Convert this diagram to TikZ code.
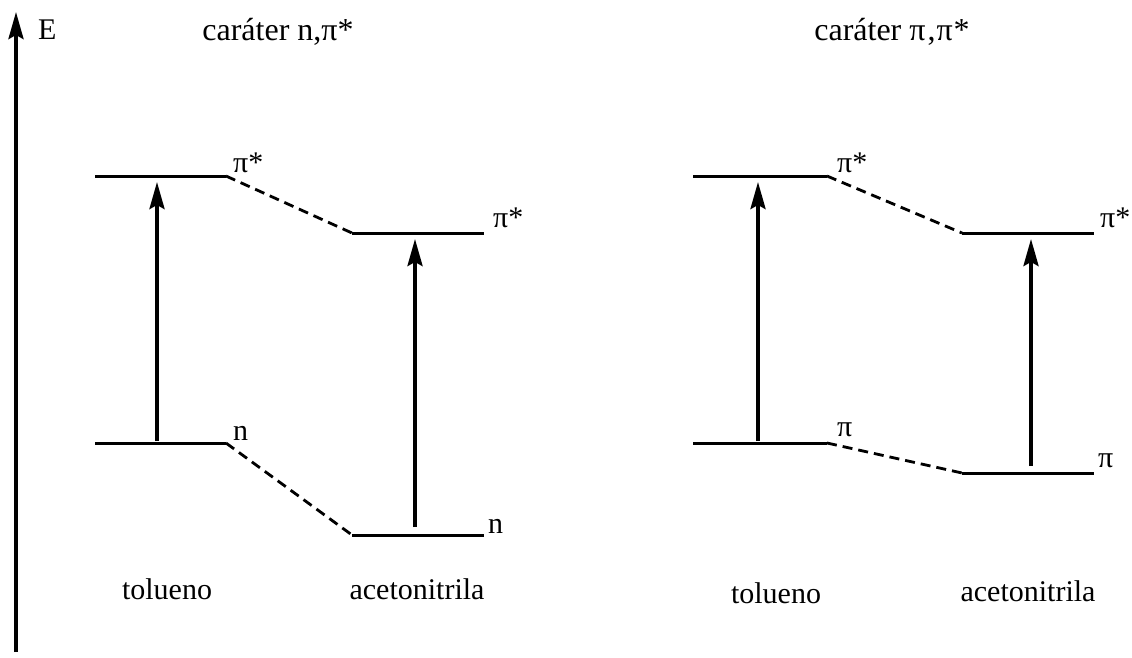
\documentclass[tikz,border=0pt]{standalone}
\usepackage{fontspec}
\setmainfont{Liberation Serif}
\usetikzlibrary{arrows.meta}
\tikzset{
  lvl/.style={line width=3pt},
  lnk/.style={line width=2.8pt,dash pattern=on 10pt off 6pt},
  trans/.style={line width=3.6pt,-{Stealth[length=27pt,width=15pt,inset=4pt]}},
  lab/.style={anchor=base west,inner sep=0pt,font=\fontsize{30}{36}\selectfont},
  solv/.style={anchor=base,inner sep=0pt,font=\fontsize{30}{36}\selectfont},
  ttl/.style={anchor=base,inner sep=0pt,font=\fontsize{32}{38}\selectfont}
}
\begin{document}
\begin{tikzpicture}[x=1pt,y=-1pt]
\useasboundingbox (0,0) rectangle (1132,657);
% energy axis
\coordinate (ax0) at (16,652);
\coordinate (ax1) at (16,12);
\draw[trans] (ax0) -- (ax1);
\node[lab] (E) at (38,39) {E};
% titles
\node[ttl] (t1) at (278,40) {caráter n,π*};
\node[ttl] (t2) at (892,40) {caráter π\kern2pt,\kern1ptπ\kern1pt*};
% left panel levels
\coordinate (a1) at (95,176);  \coordinate (a2) at (226,176);
\coordinate (b1) at (95,443);  \coordinate (b2) at (226,443);
\coordinate (c1) at (352,233); \coordinate (c2) at (484,233);
\coordinate (d1) at (352,535); \coordinate (d2) at (484,535);
\draw[lvl] (a1) -- (a2);
\draw[lvl] (b1) -- (b2);
\draw[lvl] (c1) -- (c2);
\draw[lvl] (d1) -- (d2);
\draw[lnk] (a2) -- (c1);
\draw[lnk] (b2) -- (d1);
\coordinate (ar1s) at (157,441); \coordinate (ar1e) at (157,182);
\coordinate (ar2s) at (415,527); \coordinate (ar2e) at (415,239);
\draw[trans] (ar1s) -- (ar1e);
\draw[trans] (ar2s) -- (ar2e);
\node[lab] (la) at (233,172) {π*};
\node[lab] (lb) at (233,440) {n};
\node[lab] (lc) at (493,227) {π*};
\node[lab] (ld) at (488,533) {n};
\node[solv] (s1) at (167,599) {tolueno};
\node[solv] (s2) at (417,599) {acetonitrila};
% right panel levels
\coordinate (e1) at (693,176);  \coordinate (e2) at (827,176);
\coordinate (f1) at (693,443);  \coordinate (f2) at (827,443);
\coordinate (g1) at (962,233);  \coordinate (g2) at (1094,233);
\coordinate (h1) at (962,473);  \coordinate (h2) at (1094,473);
\draw[lvl] (e1) -- (e2);
\draw[lvl] (f1) -- (f2);
\draw[lvl] (g1) -- (g2);
\draw[lvl] (h1) -- (h2);
\draw[lnk] (e2) -- (g1);
\draw[lnk] (f2) -- (h1);
\coordinate (ar3s) at (758,441); \coordinate (ar3e) at (758,182);
\coordinate (ar4s) at (1031,466); \coordinate (ar4e) at (1031,239);
\draw[trans] (ar3s) -- (ar3e);
\draw[trans] (ar4s) -- (ar4e);
\node[lab] (le) at (837,172) {π*};
\node[lab] (lf) at (837,436) {π};
\node[lab] (lg) at (1100,227) {π*};
\node[lab] (lh) at (1098,467) {π};
\node[solv] (s3) at (776,603) {tolueno};
\node[solv] (s4) at (1028,601) {acetonitrila};
\end{tikzpicture}
\end{document}
